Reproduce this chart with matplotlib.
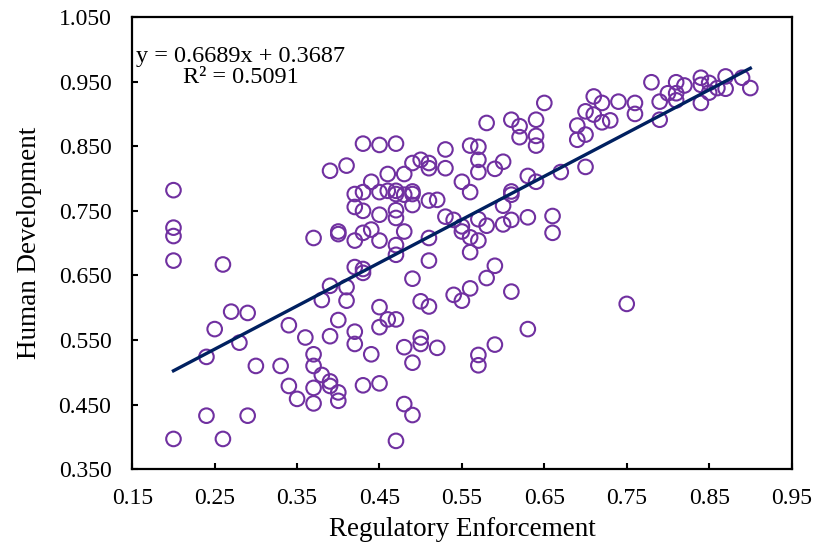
import numpy as np
import matplotlib
matplotlib.use('Agg')
import matplotlib.pyplot as plt

plt.rcParams['font.family'] = ['Liberation Serif', 'DejaVu Serif']

# regulatory enforcement (x) and human development (y)
enforcement = [
    0.20, 0.20, 0.20, 0.20, 0.20,
    0.24, 0.24, 0.25, 0.26, 0.26, 0.27, 0.28, 0.29, 0.29, 0.30,
    0.33, 0.34, 0.34, 0.35, 0.36,
    0.37, 0.37, 0.37, 0.37, 0.37,
    0.38, 0.38,
    0.39, 0.39, 0.39, 0.39, 0.39,
    0.40, 0.40, 0.40, 0.40, 0.40,
    0.41, 0.41, 0.41,
    0.42, 0.42, 0.42, 0.42, 0.42, 0.42,
    0.43, 0.43, 0.43, 0.43, 0.43, 0.43, 0.43,
    0.44, 0.44, 0.44,
    0.45, 0.45, 0.45, 0.45, 0.45, 0.45, 0.45,
    0.46, 0.46, 0.46,
    0.47, 0.47, 0.47, 0.47, 0.47, 0.47, 0.47, 0.47, 0.47,
    0.48, 0.48, 0.48, 0.48, 0.48,
    0.49, 0.49, 0.49, 0.49, 0.49, 0.49, 0.49,
    0.50, 0.50, 0.50, 0.50,
    0.51, 0.51, 0.51, 0.51, 0.51, 0.51,
    0.52, 0.52,
    0.53, 0.53, 0.53,
    0.54, 0.54,
    0.55, 0.55, 0.55, 0.55,
    0.56, 0.56, 0.56, 0.56, 0.56,
    0.57, 0.57, 0.57, 0.57, 0.57, 0.57, 0.57,
    0.58, 0.58, 0.58,
    0.59, 0.59, 0.59,
    0.60, 0.60, 0.60,
    0.61, 0.61, 0.61, 0.61, 0.61,
    0.62, 0.62,
    0.63, 0.63, 0.63,
    0.64, 0.64, 0.64, 0.64,
    0.65, 0.66, 0.66, 0.67,
    0.69, 0.69,
    0.70, 0.70, 0.70,
    0.71, 0.71, 0.72, 0.72, 0.73, 0.74, 0.75,
    0.76, 0.76, 0.78, 0.79, 0.79, 0.80,
    0.81, 0.81, 0.81, 0.82,
    0.84, 0.84, 0.84, 0.85, 0.85, 0.86,
    0.87, 0.87, 0.89, 0.90,
]
development = [
    0.782, 0.724, 0.711, 0.673, 0.397,
    0.524, 0.433, 0.567, 0.667, 0.397, 0.594, 0.546, 0.592, 0.433, 0.510,
    0.510, 0.573, 0.479, 0.459, 0.554,
    0.708, 0.528, 0.510, 0.476, 0.452,
    0.612, 0.496,
    0.812, 0.634, 0.556, 0.486, 0.479,
    0.718, 0.714, 0.581, 0.469, 0.456,
    0.820, 0.632, 0.611,
    0.776, 0.756, 0.704, 0.663, 0.563, 0.544,
    0.854, 0.779, 0.750, 0.716, 0.660, 0.654, 0.480,
    0.795, 0.721, 0.528,
    0.852, 0.779, 0.744, 0.704, 0.601, 0.570, 0.483,
    0.807, 0.781, 0.582,
    0.854, 0.781, 0.776, 0.751, 0.739, 0.697, 0.682, 0.582, 0.394,
    0.807, 0.775, 0.718, 0.539, 0.451,
    0.824, 0.780, 0.776, 0.759, 0.645, 0.515, 0.434,
    0.829, 0.610, 0.554, 0.544,
    0.824, 0.816, 0.766, 0.708, 0.673, 0.602,
    0.767, 0.538,
    0.845, 0.816, 0.741,
    0.736, 0.620,
    0.795, 0.726, 0.718, 0.611,
    0.851, 0.779, 0.709, 0.686, 0.630,
    0.849, 0.829, 0.810, 0.737, 0.704, 0.527, 0.511,
    0.886, 0.727, 0.646,
    0.815, 0.665, 0.543,
    0.826, 0.758, 0.729,
    0.891, 0.780, 0.775, 0.736, 0.625,
    0.881, 0.864,
    0.804, 0.740, 0.567,
    0.891, 0.866, 0.851, 0.795,
    0.917, 0.742, 0.716, 0.810,
    0.882, 0.860,
    0.904, 0.868, 0.818,
    0.927, 0.899, 0.917, 0.887, 0.890, 0.919, 0.606,
    0.917, 0.900, 0.949, 0.919, 0.891, 0.932,
    0.949, 0.932, 0.921, 0.944,
    0.956, 0.945, 0.917, 0.948, 0.933, 0.940,
    0.958, 0.939, 0.956, 0.940,
]

# trendline as printed on the chart
slope = 0.6689
intercept = 0.3687
r_squared = 0.5091

x_ticks = [0.15, 0.25, 0.35, 0.45, 0.55, 0.65, 0.75, 0.85, 0.95]
y_ticks = [0.350, 0.450, 0.550, 0.650, 0.750, 0.850, 0.950, 1.050]

x = np.array(enforcement)
y = np.array(development)

fig = plt.figure(figsize=(8.14, 5.5), dpi=100)
ax = fig.add_axes([0.1625, 0.1467, 0.8099, 0.8224])

ax.scatter(x, y, s=110, facecolors='none', edgecolors='#7030A0', linewidths=1.5, zorder=2)

line_x = np.array([x.min(), x.max()])
ax.plot(line_x, slope * line_x + intercept, color='#002060', linewidth=2.4, zorder=3)

ax.text(0.282, 0.972, 'y = %.4fx + %.4f\nR² = %.4f' % (slope, intercept, r_squared),
        ha='center', va='center', fontsize=17.5, linespacing=1.0)

ax.set_xlim(0.15, 0.95)
ax.set_ylim(0.35, 1.05)
ax.set_xticks(x_ticks)
ax.set_xticklabels(['%.2f' % v for v in x_ticks])
ax.set_yticks(y_ticks)
ax.set_yticklabels(['%.3f' % v for v in y_ticks])
ax.tick_params(direction='in', length=4.5, width=1.5, labelsize=17)
ax.tick_params(axis='x', pad=13.5)
ax.tick_params(axis='y', pad=15)
for s in ax.spines.values():
    s.set_linewidth(1.6)

ax.set_xlabel('Regulatory Enforcement', fontsize=19.5, labelpad=6)
ax.set_ylabel('Human Development', fontsize=19.5, labelpad=12)

fig.savefig('out.png', dpi=100)
